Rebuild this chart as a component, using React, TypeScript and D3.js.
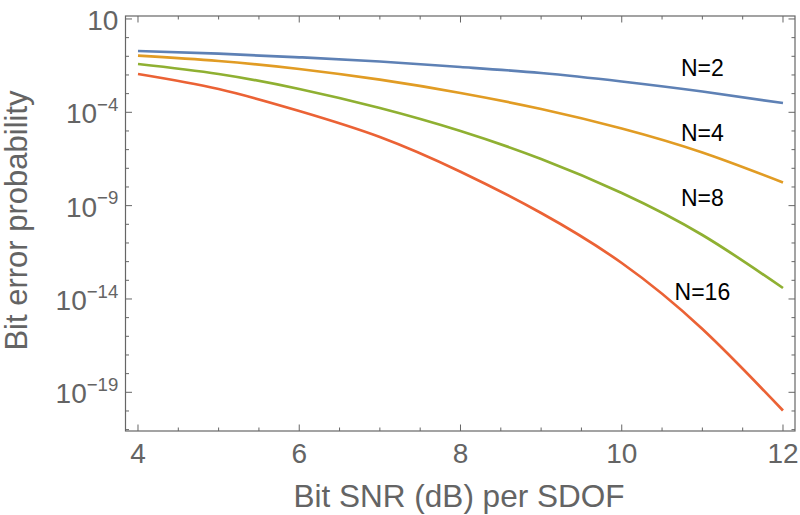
import React from "react";
import * as d3 from "d3";

const snrDb = [4, 5, 6, 7, 8, 9, 10, 11, 12];
const pN2 = [0.1923, 0.1377, 0.0883, 0.0526, 0.02673, 0.01274, 0.004467, 0.0013, 3.148e-4];
const pN4 = [0.1076, 0.05598, 0.02089, 0.005572, 0.001081, 1.503e-4, 1.355e-5, 7.015e-7, 1.734e-8];
const pN8 = [0.03873, 0.01127, 0.00177, 1.698e-4, 9.954e-6, 3.148e-7, 4.753e-9, 2.673e-11, 3.873e-14];
const pN16 = [0.01127, 0.00177, 1.175e-4, 4.753e-6, 6.577e-8, 4.027e-10, 8.453e-13, 2.46e-16, 1.059e-20];

const seriesNames = ["N=2", "N=4", "N=8", "N=16"];
const seriesColors = ["#5E81B5", "#E19C24", "#8FB032", "#EB6235"];
const labelX = [11, 11, 11, 11];
const labelY = [10 ** -1.61, 10 ** -5.09, 10 ** -8.56, 10 ** -13.61];

const xTicks = [4, 6, 8, 10, 12];
const xMinorTicks = [4.5, 5, 5.5, 6.5, 7, 7.5, 8.5, 9, 9.5, 10.5, 11, 11.5];
const yMajorExp = [1, -4, -9, -14, -19];

const W = 800;
const H = 515;
const left = 125.5;
const right = 795;
const top = 16;
const bottom = 431;

export default function App() {
  const x = d3.scaleLinear().domain([3.845, 12.149]).range([left, right]);
  const y = d3.scaleLog().domain([10 ** -21.073, 10 ** 1.159]).range([bottom, top]);
  const series = [pN2, pN4, pN8, pN16];
  const line = d3
    .line<[number, number]>()
    .x((d) => x(d[0]))
    .y((d) => y(d[1]))
    .curve(d3.curveNatural);

  const yMinorExp: number[] = [];
  for (let e = 1; e >= -21; e--) if (!yMajorExp.includes(e)) yMinorExp.push(e);

  const frameColor = "#666666";
  const textColor = "#646464";
  const fontStyle = { fontFamily: "Arial, 'Liberation Sans', sans-serif" };
  const majorLen = 6.5;
  const minorLen = 3.5;

  return (
    <svg
      width={W}
      height={H}
      style={{ position: "fixed", left: 0, top: 0, background: "#fff" }}
    >
      {series.map((s, i) => (
        <path
          key={i}
          d={line(snrDb.map((v, j) => [v, s[j]] as [number, number])) || ""}
          fill="none"
          stroke={seriesColors[i]}
          strokeWidth={2.7}
        />
      ))}
      <rect
        x={left}
        y={top}
        width={right - left}
        height={bottom - top}
        fill="none"
        stroke={frameColor}
        strokeWidth={1.2}
      />
      {xTicks.map((t) => (
        <g key={"xt" + t}>
          <line x1={x(t)} x2={x(t)} y1={bottom} y2={bottom - majorLen} stroke={frameColor} strokeWidth={1} />
          <line x1={x(t)} x2={x(t)} y1={top} y2={top + majorLen} stroke={frameColor} strokeWidth={1} />
          <text x={x(t)} y={463.3} textAnchor="middle" style={fontStyle} fontSize={28} fill={textColor}>
            {t}
          </text>
        </g>
      ))}
      {xMinorTicks.map((t) => (
        <g key={"xm" + t}>
          <line x1={x(t)} x2={x(t)} y1={bottom} y2={bottom - minorLen} stroke={frameColor} strokeWidth={1} />
          <line x1={x(t)} x2={x(t)} y1={top} y2={top + minorLen} stroke={frameColor} strokeWidth={1} />
        </g>
      ))}
      {yMajorExp.map((e) => {
        const yy = y(10 ** e);
        return (
          <g key={"ym" + e}>
            <line x1={left} x2={left + majorLen} y1={yy} y2={yy} stroke={frameColor} strokeWidth={1} />
            <line x1={right} x2={right - majorLen} y1={yy} y2={yy} stroke={frameColor} strokeWidth={1} />
            <text x={118.3} y={yy + 11} textAnchor="end" style={fontStyle} fontSize={28} fill={textColor}>
              {e === 1 ? (
                "10"
              ) : (
                <>
                  <tspan>10</tspan>
                  <tspan dy={-12.3} fontSize={18.6}>
                    {"\u2212" + Math.abs(e)}
                  </tspan>
                </>
              )}
            </text>
          </g>
        );
      })}
      {yMinorExp.map((e) => {
        const yy = y(10 ** e);
        return (
          <g key={"yn" + e}>
            <line x1={left} x2={left + minorLen} y1={yy} y2={yy} stroke={frameColor} strokeWidth={1} />
            <line x1={right} x2={right - minorLen} y1={yy} y2={yy} stroke={frameColor} strokeWidth={1} />
          </g>
        );
      })}
      {seriesNames.map((n, i) => (
        <text
          key={n}
          x={x(labelX[i])}
          y={y(labelY[i]) + 8.3}
          textAnchor="middle"
          style={fontStyle}
          fontSize={23}
          fill="#000"
        >
          {n}
        </text>
      ))}
      <text x={459} y={506.5} textAnchor="middle" style={fontStyle} fontSize={31.5} fill={textColor}>
        Bit SNR (dB) per SDOF
      </text>
      <text
        transform={`translate(26.5, ${(top + bottom) / 2 - 3}) rotate(-90)`}
        textAnchor="middle"
        style={fontStyle}
        fontSize={31}
        fill={textColor}
      >
        Bit error probability
      </text>
    </svg>
  );
}
